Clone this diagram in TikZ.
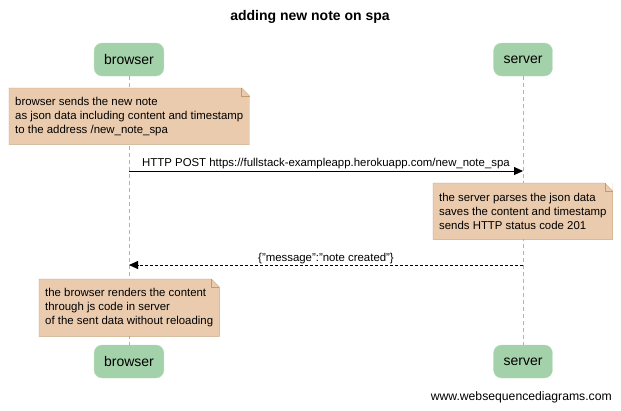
\documentclass[tikz,border=0pt]{standalone}
\usepackage{fontspec}
\setmainfont{Liberation Sans}
\usetikzlibrary{arrows.meta}
\definecolor{actorgreen}{HTML}{A3D1A9}
\definecolor{actorline}{HTML}{B8DDBC}
\definecolor{notefill}{HTML}{EACBAE}
\definecolor{noteline}{HTML}{C29A6D}
\begin{document}
\begin{tikzpicture}[x=1pt,y=-1pt,
    actor/.style={rounded corners=8pt,fill=actorgreen,draw=actorline,inner xsep=10pt,minimum height=33pt,font=\fontsize{14}{16}\selectfont},
    notebox/.style={rectangle,fill=notefill,anchor=north west,align=left,inner xsep=6pt,inner ysep=0pt,font=\fontsize{11.4}{14}\selectfont},
    fold/.style={draw=noteline},
    lifeline/.style={draw=black!30,dash pattern=on 4pt off 3pt},
    msg/.style={-{Triangle[length=9pt,width=8pt]},line width=0.9pt},
    reply/.style={-{Triangle[length=9pt,width=8pt]},line width=0.9pt,dash pattern=on 3pt off 2pt},
    lbl/.style={font=\fontsize{11.4}{13}\selectfont,inner sep=1pt}]
    \useasboundingbox (0,0) rectangle (621,410);
    %title
    \node (T) at (310,17) [font=\bfseries\fontsize{14}{16}\selectfont]{adding new note on spa};

    %actors
    \node (B1) at (129,59.5) [actor]{browser};
    \node (S1) at (523,59.5) [actor]{server};
    \node (B2) at (129,361.5) [actor]{browser};
    \node (S2) at (523,361.5) [actor]{server};

    %lifelines
    \draw [lifeline] (B1.south) to (B2.north);
    \draw [lifeline] (S1.south) to (S2.north);

    %notes
    \node (N1) at (9,88) [notebox,minimum height=56pt]{browser sends the new note\\as json data including content and timestamp\\to the address /new\_note\_spa};
    \node (N2) at (433,183) [notebox,minimum height=56pt]{the server parses the json data\\saves the content and timestamp\\sends HTTP status code 201};
    \node (N3) at (39,279) [notebox,minimum height=57pt]{the browser renders the content\\through js code in server\\of the sent data without reloading};
    %folded corners
    \foreach \n in {N1,N2,N3}{
      \coordinate (\n c) at (\n.east |- \n.north);
      \fill [white] (\n c) -- ([xshift=-8pt]\n c) -- ([yshift=-8pt]\n c) -- cycle;
      \draw [fold] (\n.north west) -- ([xshift=-8pt]\n c) -- ([yshift=-8pt]\n c) -- (\n.south east) -- (\n.south west) -- cycle;
      \draw [fold] ([xshift=-8pt]\n c) -- ([xshift=-8pt,yshift=-8pt]\n c) -- ([yshift=-8pt]\n c);
    }

    %messages
    \coordinate (m1) at (0,171);
    \coordinate (m2) at (0,265);
    \draw [msg] (B1 |- m1) to node[lbl,above=1pt]{HTTP POST https://fullstack-exampleapp.herokuapp.com/new\_note\_spa} (S1 |- m1);
    \draw [reply] (S1 |- m2) to node[lbl,above=0pt]{\{"message":"note created"\}} (B1 |- m2);

    %watermark
    \node (W) at (612,397) [anchor=east,font=\fontsize{12.2}{14}\selectfont,inner sep=0pt]{www.websequencediagrams.com};
\end{tikzpicture}
\end{document}
